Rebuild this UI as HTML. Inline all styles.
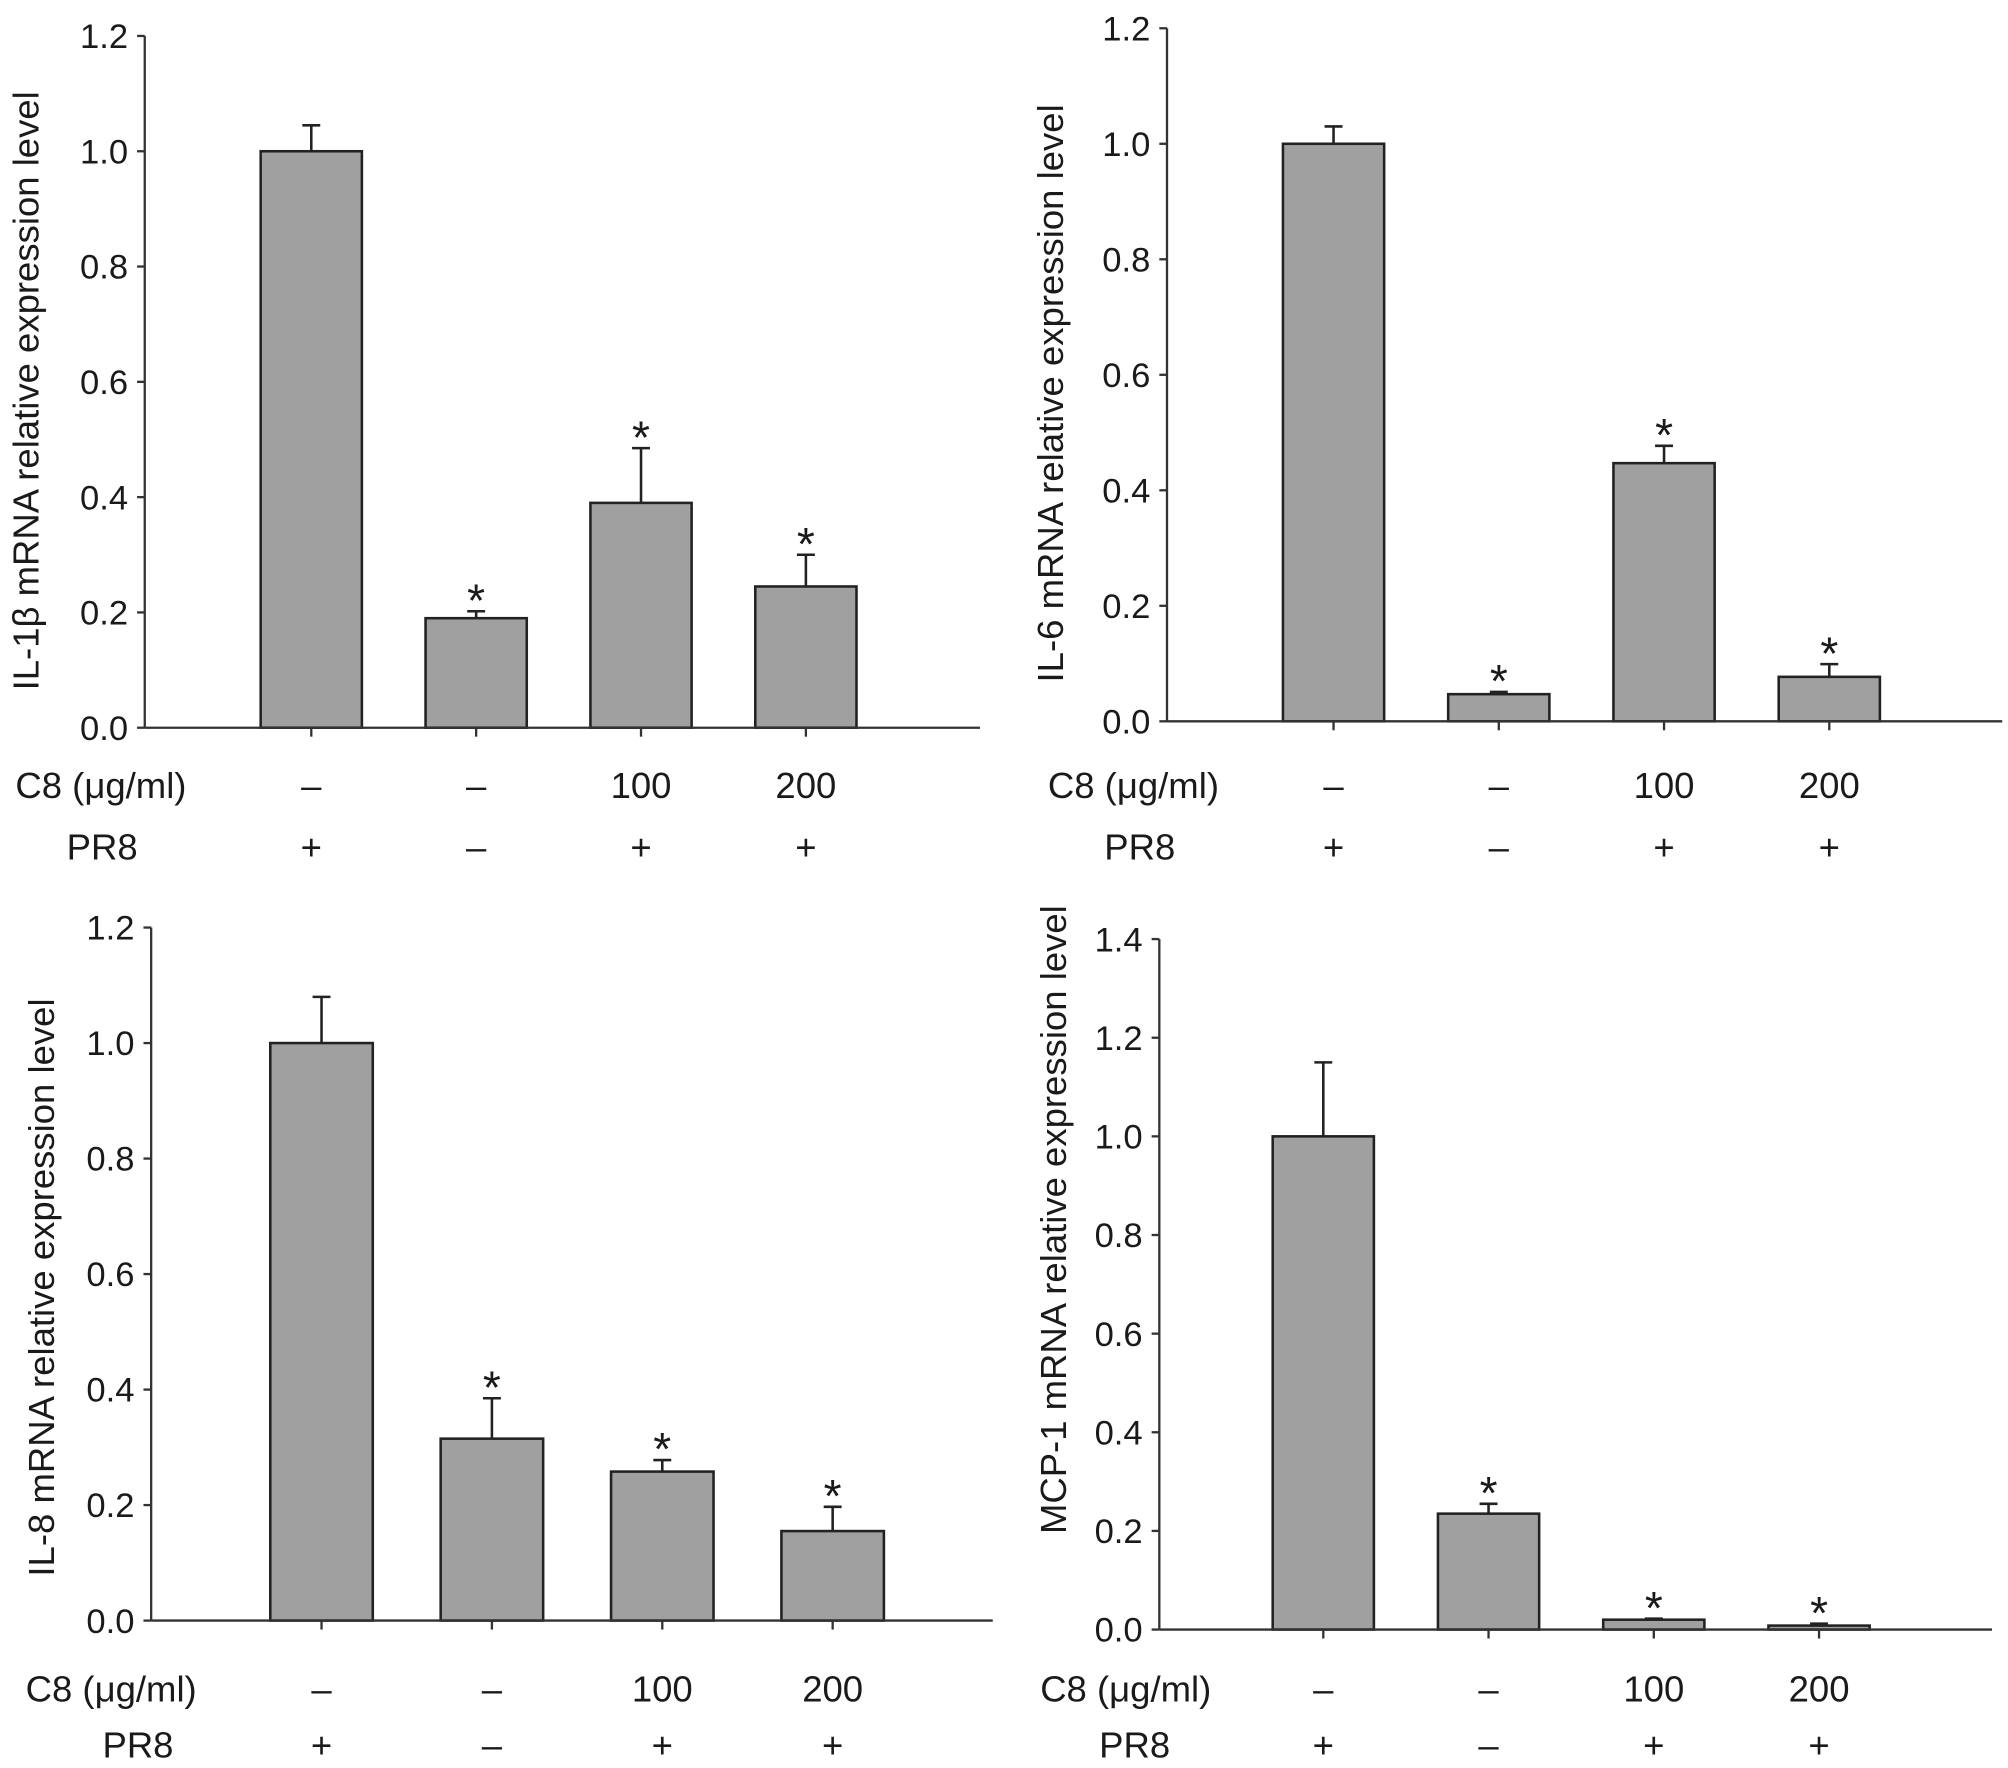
<!DOCTYPE html>
<html><head><meta charset="utf-8"><style>
html,body{margin:0;padding:0;background:#fff;}
svg{display:block;}
text{font-family:"Liberation Sans",Arial,sans-serif;fill:#1a1a1a;}
</style></head><body>
<svg id="fig" width="2008" height="1768" viewBox="0 0 1567.5 1380" xmlns="http://www.w3.org/2000/svg"></svg>
<script>
const categories = ["ctrl-pr8","mock","c8-100","c8-200"];
const c8Labels = ["\u2013","\u2013","100","200"];
const pr8Labels = ["+","\u2013","+","+"];
const il1bValues = [1.0, 0.19, 0.39, 0.245];
const il1bErrors = [0.045, 0.012, 0.095, 0.055];
const il6Values = [1.0, 0.047, 0.447, 0.077];
const il6Errors = [0.03, 0.004, 0.03, 0.022];
const il8Values = [1.0, 0.315, 0.258, 0.155];
const il8Errors = [0.08, 0.07, 0.02, 0.042];
const mcp1Values = [1.0, 0.235, 0.02, 0.008];
const mcp1Errors = [0.15, 0.02, 0.002, 0.004];
const ticks12 = ["0.0","0.2","0.4","0.6","0.8","1.0","1.2"];
const ticks14 = ["0.0","0.2","0.4","0.6","0.8","1.0","1.2","1.4"];
const stars = [false, true, true, true];

const NS = "http://www.w3.org/2000/svg";
const svg = document.getElementById("fig");
function mk(tag, attrs, parent) {
  const e = document.createElementNS(NS, tag);
  for (const k in attrs) e.setAttribute(k, attrs[k]);
  (parent || svg).appendChild(e);
  return e;
}

const panels = [
  {id:"il1b", title:"IL-1\u03b2 mRNA relative expression level", vals:il1bValues, errs:il1bErrors, ticks:ticks12, ymax:1.2,
   ax:113, yTop:28, y0:568, xEnd:765, x0:243, step:128.7, bw:79, c8y:613, pr8y:661, labX:12, prX:52, titleX:20, titleY:305},
  {id:"il6", title:"IL-6 mRNA relative expression level", vals:il6Values, errs:il6Errors, ticks:ticks12, ymax:1.2,
   ax:911, yTop:22, y0:563, xEnd:1563, x0:1041, step:129, bw:79, c8y:613, pr8y:661, labX:818, prX:862, titleX:820, titleY:307},
  {id:"il8", title:"IL-8 mRNA relative expression level", vals:il8Values, errs:il8Errors, ticks:ticks12, ymax:1.2,
   ax:118, yTop:724, y0:1265, xEnd:775, x0:251, step:133, bw:80, c8y:1318, pr8y:1362, labX:20, prX:80, titleX:32, titleY:1005},
  {id:"mcp1", title:"MCP-1 mRNA relative expression level", vals:mcp1Values, errs:mcp1Errors, ticks:ticks14, ymax:1.4,
   ax:905, yTop:733, y0:1272, xEnd:1555, x0:1033, step:129, bw:79, c8y:1318, pr8y:1362, labX:812, prX:858, titleX:822, titleY:952}
];

panels.forEach(p => {
  const g = mk("g", {});
  
  
  const yScale = v => p.y0 - (v / p.ymax) * (p.y0 - p.yTop);
  const xScale = i => p.x0 + i * p.step;

  const yAxis = mk("line", {x1:p.ax, y1:p.yTop, x2:p.ax, y2:p.y0, stroke:"#333", "stroke-width":1.8}, g);
  
  
  p.ticks.forEach(t => {
    const y = yScale(parseFloat(t));
    mk("line", {x1:p.ax-6, y1:y, x2:p.ax, y2:y, stroke:"#333", "stroke-width":1.8}, g);
    const tl = mk("text", {x:p.ax-13, y:y+9.5, "text-anchor":"end", "font-size":27}, g);
    tl.textContent = t;
    
    
  });
  const tt = mk("text", {x:p.titleX, y:p.titleY, "text-anchor":"middle", "font-size":28.5,
    transform:`rotate(-90 ${p.titleX} ${p.titleY}) translate(0 10)`}, g);
  tt.textContent = p.title;
  
  

  p.vals.forEach((v, i) => {
    const cx = xScale(i);
    const top = yScale(v);
    const eTop = yScale(v + p.errs[i]);
    const el = mk("line", {x1:cx, y1:eTop, x2:cx, y2:top, stroke:"#222", "stroke-width":2}, g);
    
    
    mk("line", {x1:cx-7, y1:eTop, x2:cx+7, y2:eTop, stroke:"#222", "stroke-width":2}, g);
    const r = mk("rect", {x:cx-p.bw/2, y:top, width:p.bw, height:Math.max(p.y0-top,1), fill:"#a0a0a0", stroke:"#222", "stroke-width":2}, g);
    
    
    if (stars[i]) {
      const s = mk("text", {x:cx, y:eTop+4, "text-anchor":"middle", "font-size":36}, g);
      s.textContent = "*";
      
      
    }
    mk("line", {x1:cx, y1:p.y0, x2:cx, y2:p.y0+7, stroke:"#333", "stroke-width":1.8}, g);
    const c8 = mk("text", {x:cx, y:p.c8y+10, "text-anchor":"middle", "font-size":28.5}, g);
    c8.textContent = c8Labels[i];
    
    
    const pr = mk("text", {x:cx, y:p.pr8y+10, "text-anchor":"middle", "font-size":28.5}, g);
    pr.textContent = pr8Labels[i];
    
    
  });
  const xAxis = mk("line", {x1:p.ax, y1:p.y0, x2:p.xEnd, y2:p.y0, stroke:"#333", "stroke-width":1.8}, g);
  
  

  const c8t = mk("text", {x:p.labX, y:p.c8y+10, "font-size":28.5}, g);
  c8t.textContent = "C8 (\u03bcg/ml)";
  
  
  const prt = mk("text", {x:p.prX, y:p.pr8y+10, "font-size":28.5}, g);
  prt.textContent = "PR8";
  
  
});
</script>
</body></html>
